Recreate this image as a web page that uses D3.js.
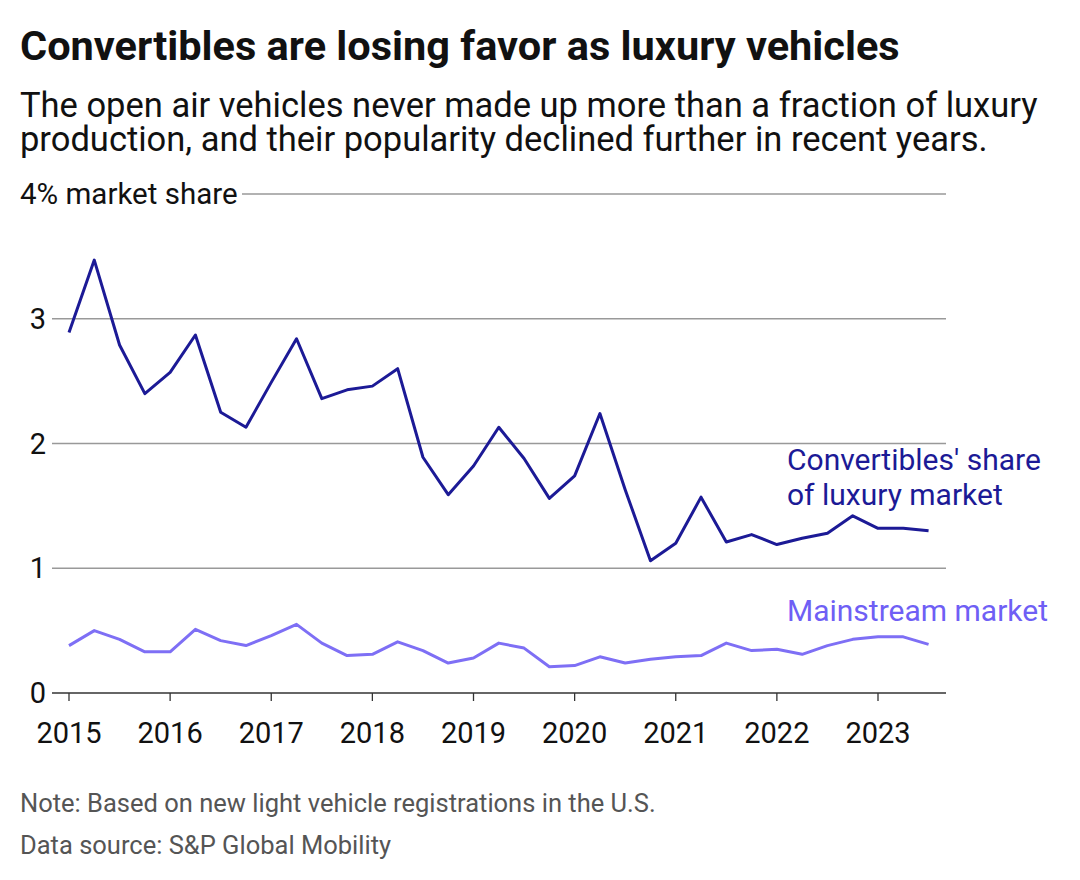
<!DOCTYPE html><html><head><meta charset="utf-8">
<script src="https://cdn.jsdelivr.net/npm/d3@7"></script>
<style>body{margin:0;background:#fff;font-family:Roboto,sans-serif}</style></head><body>
<svg id="c" width="1080" height="880"></svg>
<script>
const quarters = d3.range(35).map(i => 2015 + i * 0.25);
const luxury = [2.89,3.47,2.79,2.40,2.57,2.87,2.25,2.13,2.49,2.84,2.36,2.43,2.46,2.60,1.89,1.59,1.82,2.13,1.88,1.56,1.74,2.24,1.63,1.06,1.20,1.57,1.21,1.27,1.19,1.24,1.28,1.42,1.32,1.32,1.30];
const mainstream = [0.38,0.50,0.43,0.33,0.33,0.51,0.42,0.38,0.46,0.55,0.40,0.30,0.31,0.41,0.34,0.24,0.28,0.40,0.36,0.21,0.22,0.29,0.24,0.27,0.29,0.30,0.40,0.34,0.35,0.31,0.38,0.43,0.45,0.45,0.39];
const yTicks = [0,1,2,3,4];
const xTicks = [2015,2016,2017,2018,2019,2020,2021,2022,2023];

const svg = d3.select("#c");
const x = d3.scaleLinear().domain([2015,2023]).range([69,878]);
const y = d3.scaleLinear().domain([0,4]).range([693,194]);

svg.append("text").attr("x",20).attr("y",60).attr("font-size",41.5).attr("font-weight",700).attr("fill","#111").text("Convertibles are losing favor as luxury vehicles");
svg.append("text").attr("x",20).attr("y",117).attr("font-size",34.5).attr("fill","#111").text("The open air vehicles never made up more than a fraction of luxury");
svg.append("text").attr("x",20).attr("y",151).attr("font-size",34.5).attr("fill","#111").text("production, and their popularity declined further in recent years.");

yTicks.forEach(t => {
  if (t === 0) return;
  svg.append("line").attr("x1", t===4?242:52).attr("x2",946).attr("y1",y(t)).attr("y2",y(t)).attr("stroke","#999").attr("stroke-width",1.3);
  svg.append("text").attr("x", t===4?20:46).attr("y",y(t)+10).attr("text-anchor",t===4?"start":"end").attr("font-size",t===4?29.5:29).attr("fill","#111").text(t===4?"4% market share":t);
});
svg.append("text").attr("x",46).attr("y",y(0)+10).attr("text-anchor","end").attr("font-size",29).attr("fill","#111").text("0");
svg.append("line").attr("x1",52).attr("x2",946).attr("y1",y(0)).attr("y2",y(0)).attr("stroke","#333").attr("stroke-width",1.3);
xTicks.forEach(t => {
  svg.append("line").attr("x1",x(t)).attr("x2",x(t)).attr("y1",y(0)).attr("y2",y(0)+8).attr("stroke","#333").attr("stroke-width",1.3);
  svg.append("text").attr("x",x(t)).attr("y",743).attr("text-anchor","middle").attr("font-size",29).attr("fill","#111").text(t);
});

const line = d3.line().x(d=>x(d[0])).y(d=>y(d[1]));
svg.append("path").datum(quarters.map((q,i)=>[q,mainstream[i]])).attr("d",line).attr("fill","none").attr("stroke","#7e6ff5").attr("stroke-width",3).attr("stroke-linejoin","round");
svg.append("path").datum(quarters.map((q,i)=>[q,luxury[i]])).attr("d",line).attr("fill","none").attr("stroke","#1c1a96").attr("stroke-width",3).attr("stroke-linejoin","round");

svg.append("text").attr("x",787).attr("y",470).attr("font-size",30).attr("fill","#1c1a96").text("Convertibles' share");
svg.append("text").attr("x",787).attr("y",505).attr("font-size",30).attr("fill","#1c1a96").text("of luxury market");
svg.append("text").attr("x",787).attr("y",621).attr("font-size",30).attr("fill","#6f5ff5").text("Mainstream market");

svg.append("text").attr("x",20).attr("y",812).attr("font-size",25.5).attr("fill","#555").text("Note: Based on new light vehicle registrations in the U.S.");
svg.append("text").attr("x",20).attr("y",854).attr("font-size",25.5).attr("fill","#555").text("Data source: S&P Global Mobility");
</script></body></html>
